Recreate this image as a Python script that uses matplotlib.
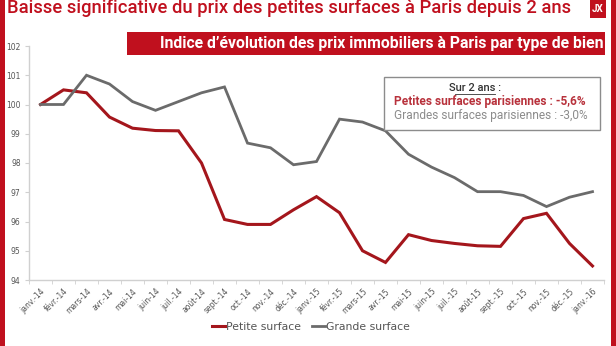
import matplotlib
matplotlib.use("Agg")
import matplotlib.pyplot as plt
from matplotlib import font_manager
from matplotlib.patches import Rectangle

# Monthly index values, base 100 in January 2014
mois = ["janv.-14", "févr.-14", "mars-14", "avr.-14", "mai-14", "juin-14",
        "juil.-14", "août-14", "sept.-14", "oct.-14", "nov.-14", "déc.-14",
        "janv.-15", "févr.-15", "mars-15", "avr.-15", "mai-15", "juin-15",
        "juil.-15", "août-15", "sept.-15", "oct.-15", "nov.-15", "déc.-15",
        "janv.-16"]
petite = [100.0, 100.5, 100.4, 99.57, 99.19, 99.11, 99.1, 98.0, 96.07, 95.9,
          95.9, 96.4, 96.85, 96.3, 95.0, 94.6, 95.55, 95.35, 95.25, 95.17,
          95.15, 96.1, 96.28, 95.25, 94.48]
grande = [100.0, 100.0, 101.0, 100.7, 100.1, 99.8, 100.1, 100.4, 100.6, 98.68,
          98.52, 97.94, 98.05, 99.5, 99.4, 99.1, 98.3, 97.86, 97.5, 97.02,
          97.02, 96.89, 96.51, 96.83, 97.02]
yticks = [94, 95, 96, 97, 98, 99, 100, 101, 102]

RED = "#c0101e"
LINE_RED = "#a4161c"
LINE_GREY = "#6b6b6b"

installed = {f.name for f in font_manager.fontManager.ttflist}
narrow = "Liberation Sans Narrow" if "Liberation Sans Narrow" in installed else "Roboto"

W, H = 616, 346
fig = plt.figure(figsize=(W / 100, H / 100), dpi=100)
fig.patch.set_facecolor("white")

def px(x0, y0, x1, y1):
	"""Pixel box (top-left origin) to figure fraction rect."""
	return [x0 / W, 1 - y1 / H, (x1 - x0) / W, (y1 - y0) / H]

# red frame on the sides
fig.add_artist(Rectangle((0, 0), 5 / W, 1, transform=fig.transFigure, color=RED, lw=0))
fig.add_artist(Rectangle((611 / W, 0), 5 / W, 1, transform=fig.transFigure, color=RED, lw=0))
# small logo top right
fig.add_artist(Rectangle((590 / W, 1 - 18 / H), 16 / W, 18 / H, transform=fig.transFigure, color=RED, lw=0))
fig.text(598 / W, 1 - 9 / H, "JX", color="white", fontsize=7, fontweight="bold",
         ha="center", va="center", family="Roboto")

fig.text(7 / W, 1 - 8 / H, "Baisse significative du prix des petites surfaces à Paris depuis 2 ans",
         color=RED, fontsize=13.2, fontweight="medium", ha="left", va="center", family="Roboto")

# subtitle banner
fig.add_artist(Rectangle((127 / W, 1 - 55 / H), (605 - 127) / W, 23 / H,
                         transform=fig.transFigure, color=RED, lw=0))
fig.text(603 / W, 1 - 43.5 / H, "Indice d\u2019évolution des prix immobiliers à Paris par type de bien",
         color="white", fontsize=11.3, fontweight="bold", ha="right", va="center", family=narrow)

ax = fig.add_axes(px(29, 46, 604, 280))
x = list(range(len(mois)))
ax.plot(x, petite, color=LINE_RED, lw=2.2, label="Petite surface", solid_joinstyle="miter")
ax.plot(x, grande, color=LINE_GREY, lw=2.0, label="Grande surface", solid_joinstyle="miter")
ax.set_xlim(-0.5, len(mois) - 0.5)
ax.set_ylim(94, 102)
ax.set_yticks(yticks)
ax.set_yticklabels([str(v) for v in yticks], fontsize=5.5, color="#555555")
ax.set_xticks(x)
ax.set_xticklabels(mois, rotation=45, ha="right", rotation_mode="anchor",
                   fontsize=5.5, color="#555555")
ax.set_xticks([i - 0.5 for i in range(len(mois) + 1)], minor=True)
ax.tick_params(axis="x", which="major", length=0, pad=5)
ax.tick_params(axis="x", which="minor", length=3, color="#d0d0d0")
ax.tick_params(axis="y", length=3, color="#d0d0d0", pad=3)
for s in ["top", "right"]:
	ax.spines[s].set_visible(False)
for s in ["left", "bottom"]:
	ax.spines[s].set_color("#d0d0d0")
	ax.spines[s].set_linewidth(1.0)

ax.legend(loc="lower center", bbox_to_anchor=(0.49, -0.265), ncol=2, frameon=False,
          fontsize=7.8, handlelength=1.2, handletextpad=0.1, columnspacing=1.0,
          labelcolor="#555555")

# summary box
fig.add_artist(Rectangle((384 / W, 1 - 130 / H), (600 - 384) / W, (130 - 77) / H,
                         transform=fig.transFigure, facecolor="white",
                         edgecolor="#8c8c8c", lw=1.0))
fig.text(475 / W, 1 - 88 / H, "Sur 2 ans :", color="#333333", fontsize=8,
         fontweight="medium", ha="center", va="center", family="Roboto")
fig.add_artist(plt.Line2D([455 / W, 495 / W], [1 - 94 / H] * 2, transform=fig.transFigure,
                          color="#333333", lw=0.6))
fig.text(394 / W, 1 - 102 / H, "Petites surfaces parisiennes : -5,6%", color="#b8323c",
         fontsize=8.6, fontweight="bold", ha="left", va="center", family="Roboto")
fig.text(394 / W, 1 - 115 / H, "Grandes surfaces parisiennes : -3,0%", color="#8c8c8c",
         fontsize=8.6, ha="left", va="center", family="Roboto")

fig.savefig("out.png", dpi=100, facecolor="white")
